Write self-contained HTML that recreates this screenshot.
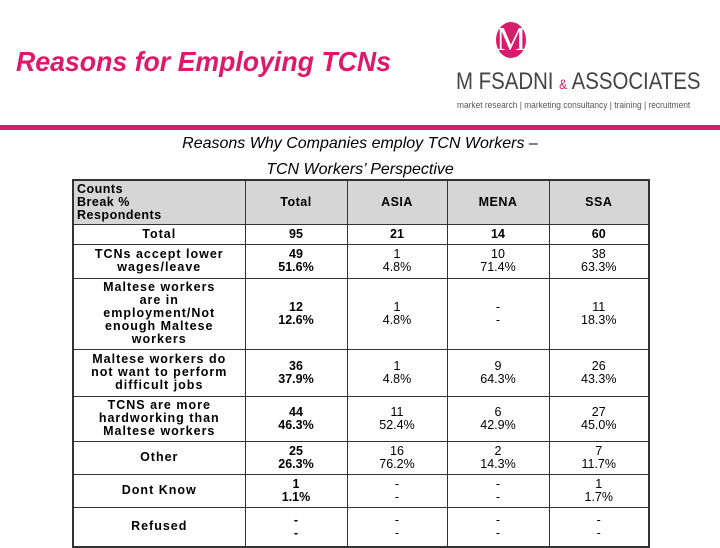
<!DOCTYPE html>
<html><head><meta charset="utf-8"><style>
body{margin:0;width:720px;height:540px;overflow:hidden;background:#fff;font-family:"Liberation Sans",sans-serif;position:relative}
#title{position:absolute;left:16px;top:46px;font-size:27.5px;font-style:italic;font-weight:bold;color:#e0186c;white-space:nowrap;transform:scaleX(0.97);transform-origin:0 0}
#bar{position:absolute;left:0;top:125px;width:720px;height:5px;background:#e0186c}
#sub{position:absolute;left:0;width:720px;top:131px;text-align:center;font-size:16px;font-style:italic;line-height:26px}
#logo-m{position:absolute;left:496px;top:22px;width:30px;height:36px;border-radius:50%;background:#d81b6a;color:#fff;font-family:"Liberation Serif",serif;font-size:34px;text-align:center;line-height:36px}
#logo-t{position:absolute;left:456px;top:68px;font-size:24px;color:#444;white-space:nowrap;transform:scaleX(0.85);transform-origin:0 0}
#logo-t span{color:#d81b6a;font-size:14px}
#logo-s{position:absolute;left:457px;top:100px;font-size:9.5px;color:#555;white-space:nowrap;transform:scaleX(0.88);transform-origin:0 0}
table{position:absolute;left:72px;top:179px;border-collapse:collapse;table-layout:fixed;border:2px solid #333}
td{border:1px solid #333;text-align:center;font-size:12.5px;line-height:13px;padding:0;vertical-align:middle}
td.l{font-weight:bold;letter-spacing:1px}
td.t{font-weight:bold}
tr.h td{background:#d6d6d6;font-weight:bold;letter-spacing:0.5px}
tr.h td.l{text-align:left;padding-left:3px}
</style></head><body>
<div id="title">Reasons for Employing TCNs</div>
<div id="logo-m">M</div>
<div id="logo-t">M FSADNI <span>&amp;</span> ASSOCIATES</div>
<div id="logo-s">market research | marketing consultancy | training | recruitment</div>
<div id="bar"></div>
<div id="sub">Reasons Why Companies employ TCN Workers –<br>TCN Workers’ Perspective</div>
<table>
<colgroup><col style="width:172px"><col style="width:102px"><col style="width:100px"><col style="width:102px"><col style="width:100px"></colgroup>
<tr class="h" style="height:44px"><td class="l">Counts<br>Break %<br>Respondents</td><td>Total</td><td>ASIA</td><td>MENA</td><td>SSA</td></tr>
<tr style="height:20px"><td class="l">Total</td><td class="t">95</td><td class="t">21</td><td class="t">14</td><td class="t">60</td></tr>
<tr style="height:34px"><td class="l">TCNs accept lower<br>wages/leave</td><td class="t">49<br>51.6%</td><td>1<br>4.8%</td><td>10<br>71.4%</td><td>38<br>63.3%</td></tr>
<tr style="height:71px"><td class="l">Maltese workers<br>are in<br>employment/Not<br>enough Maltese<br>workers</td><td class="t">12<br>12.6%</td><td>1<br>4.8%</td><td>-<br>-</td><td>11<br>18.3%</td></tr>
<tr style="height:47px"><td class="l">Maltese workers do<br>not want to perform<br>difficult jobs</td><td class="t">36<br>37.9%</td><td>1<br>4.8%</td><td>9<br>64.3%</td><td>26<br>43.3%</td></tr>
<tr style="height:45px"><td class="l">TCNS are more<br>hardworking than<br>Maltese workers</td><td class="t">44<br>46.3%</td><td>11<br>52.4%</td><td>6<br>42.9%</td><td>27<br>45.0%</td></tr>
<tr style="height:33px"><td class="l">Other</td><td class="t">25<br>26.3%</td><td>16<br>76.2%</td><td>2<br>14.3%</td><td>7<br>11.7%</td></tr>
<tr style="height:33px"><td class="l">Dont Know</td><td class="t">1<br>1.1%</td><td>-<br>-</td><td>-<br>-</td><td>1<br>1.7%</td></tr>
<tr style="height:40px"><td class="l">Refused</td><td class="t">-<br>-</td><td>-<br>-</td><td>-<br>-</td><td>-<br>-</td></tr>
</table>
</body></html>
